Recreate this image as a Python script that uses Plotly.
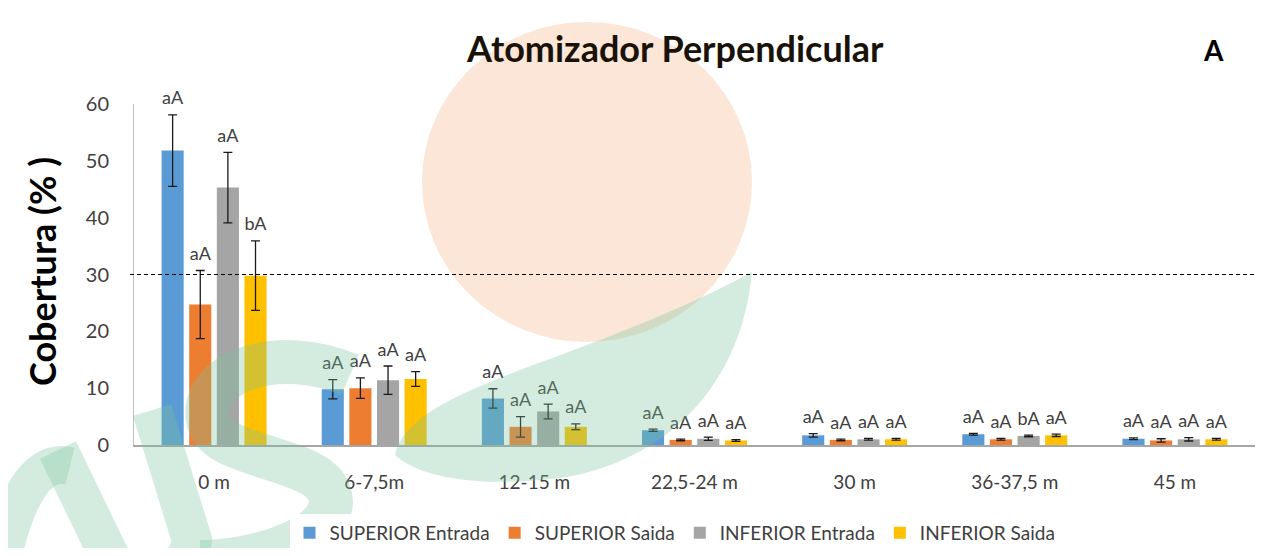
import re
import plotly.graph_objects as go

categories = ["0 m", "6-7,5m", "12-15 m", "22,5-24 m", "30 m", "36-37,5 m", "45 m"]
series_names = ["SUPERIOR Entrada", "SUPERIOR Saida", "INFERIOR Entrada", "INFERIOR Saida"]
colors = ["#5B9BD5", "#ED7D31", "#A5A5A5", "#FFC000"]

sup_entrada = [51.8, 9.8, 8.2, 2.6, 1.7, 1.9, 1.1]
sup_entrada_err = [6.3, 1.7, 1.7, 0.2, 0.3, 0.15, 0.15]
sup_saida = [24.7, 10.0, 3.2, 0.9, 0.9, 1.0, 0.8]
sup_saida_err = [6.0, 1.8, 1.8, 0.15, 0.15, 0.15, 0.3]
inf_entrada = [45.3, 11.4, 5.9, 1.1, 1.0, 1.6, 1.0]
inf_entrada_err = [6.2, 2.5, 1.3, 0.3, 0.15, 0.15, 0.3]
inf_saida = [29.8, 11.6, 3.2, 0.8, 1.0, 1.7, 1.0]
inf_saida_err = [6.1, 1.3, 0.5, 0.15, 0.15, 0.2, 0.15]

sup_entrada_lbl = ["aA"] * 7
sup_saida_lbl = ["aA"] * 7
inf_entrada_lbl = ["aA", "aA", "aA", "aA", "aA", "bA", "aA"]
inf_saida_lbl = ["bA", "aA", "aA", "aA", "aA", "aA", "aA"]

values = [sup_entrada, sup_saida, inf_entrada, inf_saida]
errors = [sup_entrada_err, sup_saida_err, inf_entrada_err, inf_saida_err]
labels = [sup_entrada_lbl, sup_saida_lbl, inf_entrada_lbl, inf_saida_lbl]

ref_line = 30
FONT = "Lato"
bargap = 0.31
n = len(series_names)
slot = (1 - bargap) / n

# page-pixel layout (the page body has an 8px margin)
PAGE_OFF = 8
PL, PR, PT, PB = 134, 1255, 104, 445   # plot box in page pixels
FIG_W, FIG_H = 1268 - 2 * PAGE_OFF, 556 - 2 * PAGE_OFF


def px(X, Y):
    return (X - PL) / (PR - PL), (PB - Y) / (PB - PT)


def px_path(s):
    def rep(m):
        x, y = px(float(m.group(1)), float(m.group(2)))
        return f"{x:.4f},{y:.4f}"
    return re.sub(r"(-?[\d.]+),(-?[\d.]+)", rep, s)


x_idx = list(range(len(categories)))
fig = go.Figure()

for k in range(n):
    fig.add_trace(go.Bar(
        x=x_idx, y=values[k], name=series_names[k],
        marker=dict(color=colors[k], line=dict(width=0)),
        error_y=dict(type="data", array=errors[k], color="#1a1a1a", thickness=1.3, width=4.5),
    ))

for k in range(n):
    off = (k - (n - 1) / 2) * slot
    fig.add_trace(go.Scatter(
        x=[i + off for i in x_idx],
        y=[v + e for v, e in zip(values[k], errors[k])],
        text=labels[k], mode="markers+text", textposition="top center",
        marker=dict(size=8, opacity=0),
        textfont=dict(family=FONT, size=18, color="#404040"),
        showlegend=False, cliponaxis=False, hoverinfo="skip",
    ))

# watermark: peach circle
x0, y1 = px(422, 22)
x1, y0 = px(752, 342)
fig.add_shape(type="circle", xref="paper", yref="paper", layer="below",
              x0=x0, x1=x1, y0=y0, y1=y1,
              fillcolor="rgba(248,205,175,0.5)", line=dict(width=0))

# watermark: green letters (approximate)
GREEN = "rgba(120,195,155,0.32)"
strokes = [
    ("M 70,466 Q 25,455 2,560", 38),
    ("M 58,450 L 114,566", 40),
    ("M 152,410 L 192,540 Q 188,575 140,578", 40),
    ("M 350,375 C 280,345 200,370 208,420 C 215,460 320,455 330,495 C 340,535 260,562 200,562", 44),
]
for path, w in strokes:
    fig.add_shape(type="path", xref="paper", yref="paper", layer="above",
                  path=px_path(path), line=dict(color=GREEN, width=w), fillcolor="rgba(0,0,0,0)")
fig.add_shape(type="path", xref="paper", yref="paper", layer="above",
              path=px_path("M 395,455 C 410,385 580,365 752,272 C 740,400 650,465 560,478 C 480,488 420,478 395,455 Z"),
              line=dict(width=0), fillcolor=GREEN)

dx0, _ = px(130, 0)
fig.add_shape(type="line", xref="paper", yref="y", x0=dx0, x1=1, y0=ref_line, y1=ref_line,
              line=dict(color="black", width=1, dash="4px,3px"))

tx, ty = px(675, 48)
fig.add_annotation(text="<b>Atomizador Perpendicular</b>", xref="paper", yref="paper",
                   x=tx, y=ty, xanchor="center", yanchor="middle", showarrow=False,
                   font=dict(family=FONT, size=36, color="#1a1208"))
ax_, ay_ = px(1213, 50)
fig.add_annotation(text="<b>A</b>", xref="paper", yref="paper",
                   x=ax_, y=ay_, xanchor="center", yanchor="middle", showarrow=False,
                   font=dict(family=FONT, size=28, color="black"))
yx, yy = px(42, 272)
fig.add_annotation(text="<b>Cobertura (% )</b>", xref="paper", yref="paper",
                   x=yx, y=yy, xanchor="center", yanchor="middle", textangle=-90, showarrow=False,
                   font=dict(family=FONT, size=36, color="black"))

lx, ly = px(675, 533)
fig.update_layout(
    width=FIG_W, height=FIG_H,
    margin=dict(l=PL - PAGE_OFF, r=FIG_W - (PR - PAGE_OFF), t=PT - PAGE_OFF, b=FIG_H - (PB - PAGE_OFF),
                autoexpand=False),
    paper_bgcolor="white", plot_bgcolor="rgba(0,0,0,0)",
    barmode="group", bargap=bargap, bargroupgap=0.2,
    font=dict(family=FONT, color="#404040"),
    xaxis=dict(tickmode="array", tickvals=x_idx, ticktext=categories,
               range=[-0.5, len(categories) - 0.5],
               showline=True, linecolor="#A6A6A6", linewidth=1.5,
               ticks="outside", ticklen=19, tickcolor="rgba(0,0,0,0)",
               showgrid=False, zeroline=False, automargin=False,
               tickfont=dict(family=FONT, size=19, color="#404040")),
    yaxis=dict(range=[0, 60], dtick=10, showline=True, linecolor="#BFBFBF", linewidth=1,
               ticks="outside", ticklen=20, tickcolor="rgba(0,0,0,0)",
               showgrid=False, zeroline=False, automargin=False,
               tickfont=dict(family=FONT, size=20, color="#404040")),
    legend=dict(orientation="h", x=lx, xanchor="center", y=ly, yanchor="middle",
                font=dict(family=FONT, size=19, color="#404040"),
                itemwidth=30, tracegroupgap=0),
)

fig.write_html("out.html")
